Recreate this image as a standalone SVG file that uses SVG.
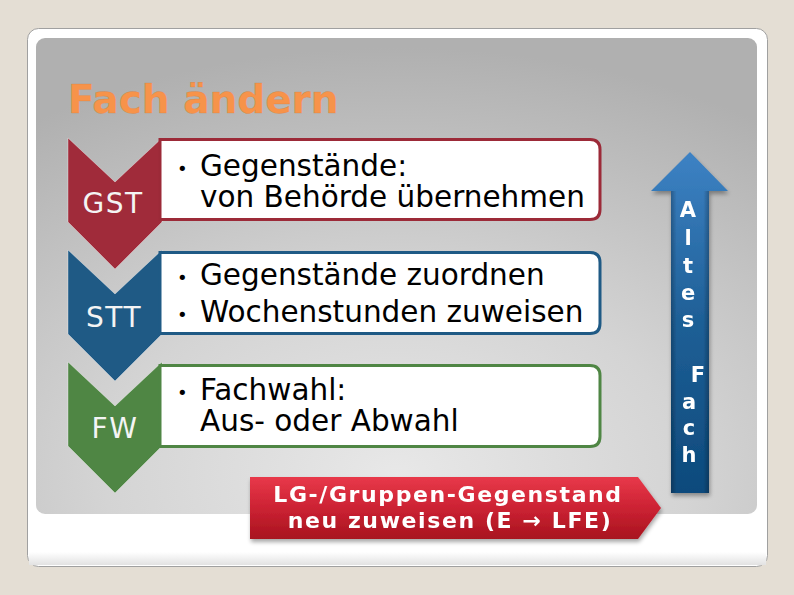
<svg xmlns="http://www.w3.org/2000/svg" width="794" height="595" viewBox="0 0 794 595">
<defs>
<radialGradient id="panelGrad" cx="0.5" cy="0.92" r="0.9" fx="0.5" fy="0.92">
<stop offset="0" stop-color="#e8e8e8"/>
<stop offset="0.45" stop-color="#d4d4d4"/>
<stop offset="0.8" stop-color="#bdbdbd"/>
<stop offset="1" stop-color="#b0b0b0"/>
</radialGradient>
<linearGradient id="bannerGrad" x1="0" y1="0" x2="0" y2="1">
<stop offset="0" stop-color="#e8394a"/>
<stop offset="0.5" stop-color="#cc2233"/>
<stop offset="1" stop-color="#a8141f"/>
</linearGradient>
<linearGradient id="arrowGrad" x1="0" y1="0" x2="0" y2="1">
<stop offset="0" stop-color="#3d82c4"/>
<stop offset="0.5" stop-color="#1e5f96"/>
<stop offset="1" stop-color="#0d4a7c"/>
</linearGradient>
<linearGradient id="shaftEdge" x1="0" y1="0" x2="1" y2="0">
<stop offset="0" stop-color="#000" stop-opacity="0.25"/>
<stop offset="0.15" stop-color="#000" stop-opacity="0"/>
<stop offset="0.85" stop-color="#000" stop-opacity="0"/>
<stop offset="1" stop-color="#000" stop-opacity="0.25"/>
</linearGradient>
<linearGradient id="cardShade" x1="0" y1="0" x2="0" y2="1">
<stop offset="0" stop-color="#ffffff"/>
<stop offset="1" stop-color="#e2e2e2"/>
</linearGradient>
<filter id="shadow" x="-10%" y="-10%" width="130%" height="140%">
<feGaussianBlur in="SourceAlpha" stdDeviation="2"/>
<feOffset dx="1" dy="3"/>
<feComponentTransfer><feFuncA type="linear" slope="0.35"/></feComponentTransfer>
<feMerge><feMergeNode/><feMergeNode in="SourceGraphic"/></feMerge>
</filter>
</defs>
<style>
.chev { stroke: #ffffff; stroke-opacity: 0.35; stroke-width: 1; }
.box { fill: #ffffff; stroke-width: 3; }
.lbl { font-family: "DejaVu Sans", Verdana, sans-serif; font-size: 28px; fill: #f4f4f4; text-anchor: middle; letter-spacing: 1.5px; }
.txt { font-family: "DejaVu Sans", Verdana, sans-serif; font-size: 29.5px; fill: #000000; }
.bul { font-family: "DejaVu Sans", Verdana, sans-serif; font-size: 18px; fill: #000000; }
.ban { font-family: "DejaVu Sans", Verdana, sans-serif; font-weight: bold; font-size: 22px; fill: #ffffff; text-anchor: middle; letter-spacing: 1.6px; }
.arr { font-family: "DejaVu Sans", Verdana, sans-serif; font-weight: bold; font-size: 21px; fill: #ffffff; text-anchor: middle; }
</style>

<rect x="0" y="0" width="794" height="595" fill="#e4ded4"/>
<g id="slide">
<rect x="27.5" y="28.5" width="740" height="538" rx="11" fill="#ffffff" stroke="#a0a0a0" stroke-width="1"/>
<rect x="29" y="552" width="737" height="13" fill="url(#cardShade)"/>
<rect x="36" y="38" width="721" height="476" rx="9" fill="url(#panelGrad)"/>
</g>

<g id="title">
<text x="68" y="113" font-family="'DejaVu Sans', Verdana, sans-serif" font-weight="bold" font-size="39" fill="#f7934a" stroke="#c87838" stroke-width="0.4" stroke-opacity="0.5">Fach ändern</text>
</g>

<g id="connectors"/>

<g id="node-gst">
<path class="chev" d="M68,138 L115,182 L162,138 L162,222 L115,269 L68,222 Z" fill="#a02b3a"/>
<path class="box" d="M160,139.5 H590 Q600,139.5 600,149.5 V209.5 Q600,219.5 590,219.5 H160 Z" stroke="#9c2a38"/>
<text class="lbl" x="113" y="213">GST</text>
<text class="bul" x="177" y="175">•</text>
<text class="txt" x="200" y="176">Gegenstände:</text>
<text class="txt" x="200" y="207">von Behörde übernehmen</text>
</g>

<g id="node-stt">
<path class="chev" d="M68,250 L115,294 L162,250 L162,334 L115,381 L68,334 Z" fill="#1f5a85"/>
<path class="box" d="M160,252.5 H590 Q600,252.5 600,262.5 V323.5 Q600,333.5 590,333.5 H160 Z" stroke="#1f5a85"/>
<text class="lbl" x="114" y="327">STT</text>
<text class="bul" x="177" y="284">•</text>
<text class="txt" x="200" y="285">Gegenstände zuordnen</text>
<text class="bul" x="177" y="321">•</text>
<text class="txt" x="200" y="322">Wochenstunden zuweisen</text>
</g>

<g id="node-fw">
<path class="chev" d="M68,362 L115,406 L162,362 L162,446 L115,493 L68,446 Z" fill="#4f8644"/>
<path class="box" d="M160,365.5 H590 Q600,365.5 600,375.5 V436.5 Q600,446.5 590,446.5 H160 Z" stroke="#4f8644"/>
<text class="lbl" x="115" y="438">FW</text>
<text class="bul" x="177" y="399">•</text>
<text class="txt" x="200" y="400">Fachwahl:</text>
<text class="txt" x="200" y="431">Aus- oder Abwahl</text>
</g>

<g id="banner" filter="url(#shadow)">
<path d="M250,477 H638 L661,508 L638,539 H250 Z" fill="url(#bannerGrad)"/>
<text class="ban" x="448" y="502">LG-/Gruppen-Gegenstand</text>
<text class="ban" x="450" y="528">neu zuweisen (E → LFE)</text>
</g>

<g id="arrow" filter="url(#shadow)">
<path d="M690,152 L728,191 H709 V493 H671 V191 H651 Z" fill="url(#arrowGrad)"/>
<rect x="671" y="191" width="38" height="302" fill="url(#shaftEdge)"/>
<text class="arr" x="688" y="217">A</text>
<text class="arr" x="688" y="245">l</text>
<text class="arr" x="688" y="273">t</text>
<text class="arr" x="688" y="300">e</text>
<text class="arr" x="688" y="327">s</text>
<text class="arr" x="698" y="382">F</text>
<text class="arr" x="689" y="409">a</text>
<text class="arr" x="689" y="435">c</text>
<text class="arr" x="689" y="462">h</text>
</g>
</svg>
